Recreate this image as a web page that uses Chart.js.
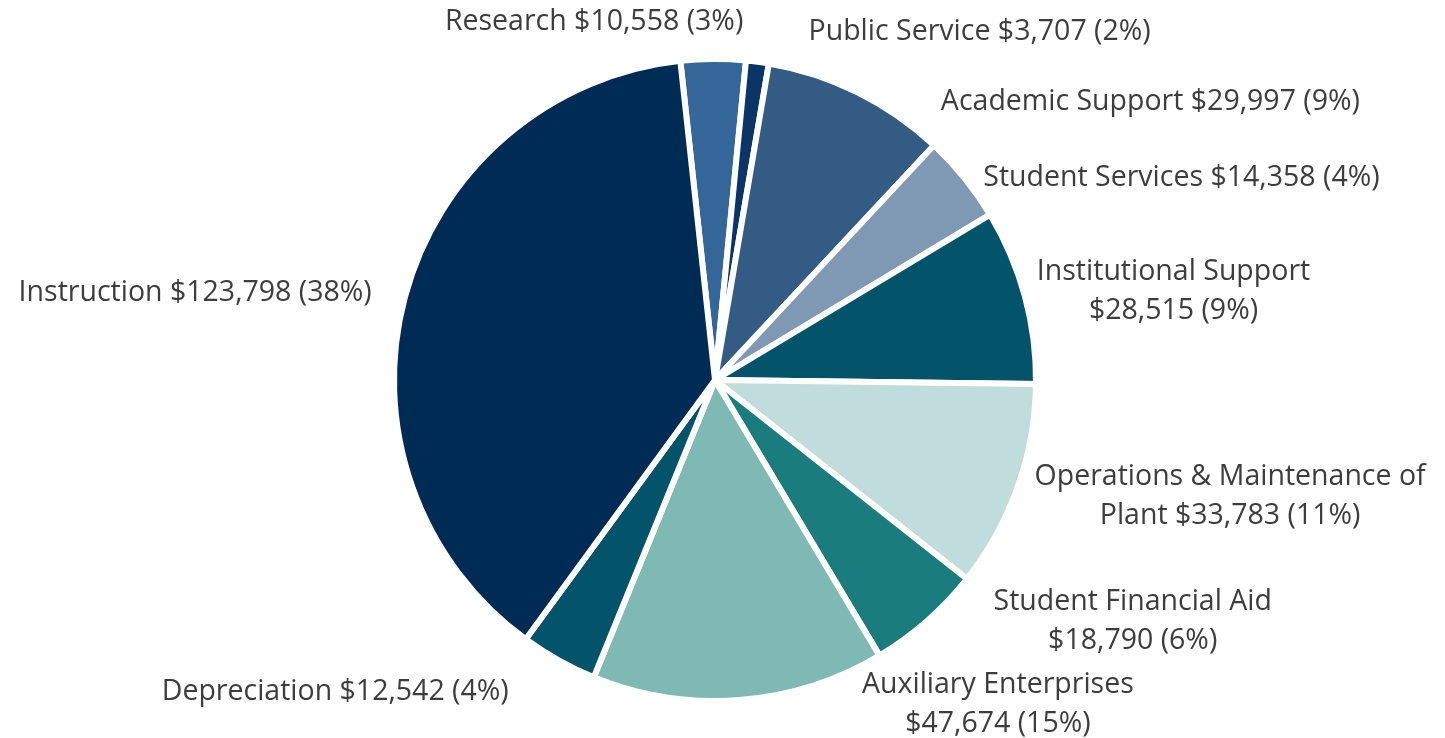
<!DOCTYPE html>
<html>
<head>
<meta charset="utf-8">
<script src="https://cdn.jsdelivr.net/npm/chart.js@4.4.0/dist/chart.umd.min.js"></script>
<style>
html, body { margin: 0; padding: 0; background: #fff; }
#wrap { width: 1445px; height: 738px; position: relative; }
</style>
</head>
<body>
<div id="wrap"><canvas id="chart_expenses"></canvas></div>
<script>
// data
var categories = ["Research", "Public Service", "Academic Support", "Student Services",
	"Institutional Support", "Operations & Maintenance of Plant", "Student Financial Aid",
	"Auxiliary Enterprises", "Depreciation", "Instruction"];
var amounts = [10558, 3707, 29997, 14358, 28515, 33783, 18790, 47674, 12542, 123798];
var percents = [3, 2, 9, 4, 9, 11, 6, 15, 4, 38];
var colors = ["#346699", "#0b3566", "#335b84", "#7f98b3", "#03536a",
	"#c0dcdc", "#1b7c7d", "#7fb9b3", "#03536a", "#002b55"];

// how many words go on the first label line (0 = one line)
var wrap_words = [0, 0, 0, 0, 2, 4, 3, 2, 0, 0];
// label shift from the point just outside the slice middle
var label_nudge = [[-119, -28], [221, -21], [289, 18], [210, 6], [140, -2],
	[204, 6], [200, -7], [258, -5], [-219, 24], [-201, -2]];

var label_font = "28.5px 'Open Sans'";
var line_height = 39;

function label_lines(i)
{
	var text = categories[i] + " $" + amounts[i].toLocaleString("en-US") + " (" + percents[i] + "%)";
	if(wrap_words[i] <= 0)
	{
		return [text];
	}
	var words = text.split(" ");
	return [words.slice(0, wrap_words[i]).join(" "), words.slice(wrap_words[i]).join(" ")];
}

var slice_labels = {
	id: "slice_labels",
	afterDraw: function(chart)
	{
		var ctx = chart.ctx;
		var arcs = chart.getDatasetMeta(0).data;
		ctx.save();
		ctx.font = label_font;
		ctx.fillStyle = "#3d3d3d";
		ctx.textAlign = "center";
		ctx.textBaseline = "middle";
		arcs.forEach(function(arc, i){
			var p = arc.getProps(["x", "y", "startAngle", "endAngle", "outerRadius"], true);
			var mid = (p.startAngle + p.endAngle) / 2;
			var dist = p.outerRadius + 9;
			var cx = p.x + Math.cos(mid) * dist + label_nudge[i][0];
			var cy = p.y + Math.sin(mid) * dist + label_nudge[i][1];
			var lines = label_lines(i);
			var top = cy - (lines.length - 1) * line_height / 2;
			lines.forEach(function(line, k){
				ctx.fillText(line, cx, top + k * line_height);
			});
		});
		ctx.restore();
	}
};

var params_expenses = {
	type: "pie",
	data: {
		labels: categories,
		datasets: [{
			data: amounts,
			backgroundColor: colors,
			borderColor: "#ffffff",
			borderWidth: 6
		}]
	},
	options: {
		responsive: true,
		maintainAspectRatio: false,
		animation: false,
		rotation: -6.2,
		layout: { padding: { top: 56, bottom: 34, left: 391, right: 406 } },
		plugins: {
			legend: { display: false },
			tooltip: { enabled: false }
		}
	},
	plugins: [slice_labels]
};
new Chart(document.getElementById("chart_expenses"), params_expenses);
</script>
</body>
</html>
